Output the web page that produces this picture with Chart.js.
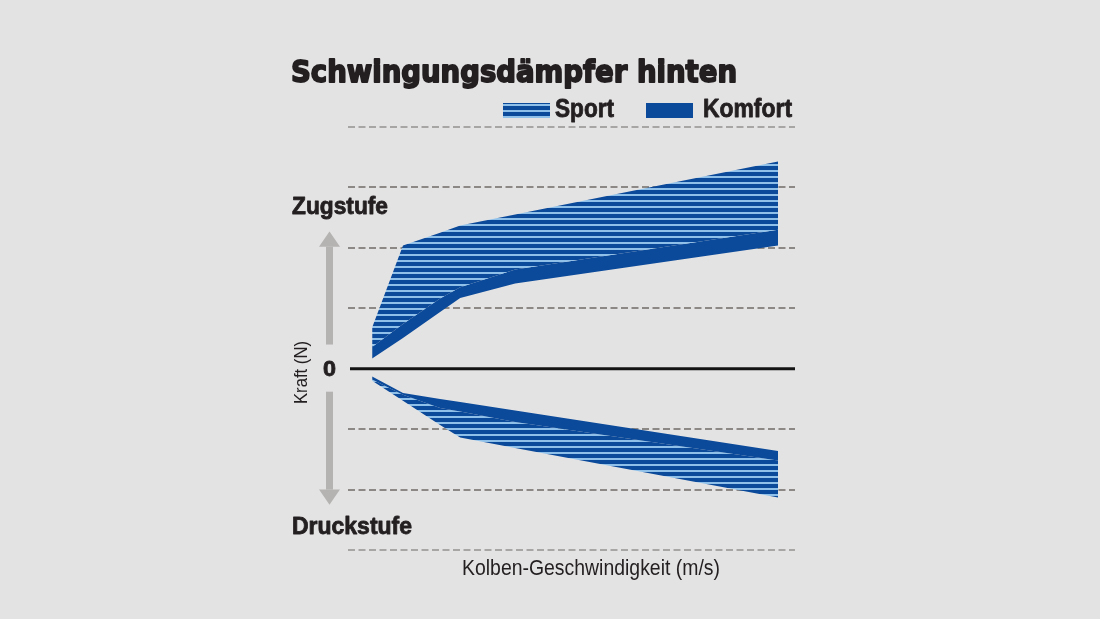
<!DOCTYPE html>
<html lang="de">
<head>
<meta charset="utf-8">
<title>Schwingungsdämpfer hinten</title>
<script src="https://cdn.jsdelivr.net/npm/chart.js@4.4.1/dist/chart.umd.min.js"></script>
<style>
  html, body { margin: 0; padding: 0; background: #e4e3e3; }
  canvas { display: block; }
</style>
</head>
<body>
<canvas id="grafik" width="1100" height="619"></canvas>
<script>
// Kolben-Geschwindigkeit (ohne Skala im Original, daher relative Werte 0..100)
const xWerte = [5.4, 12.3, 20.6, 25.1, 37.4, 96.2];

// Zugstufe (positive Kraft)
const zugSportOben = [0.68, 2.04, 2.25, 2.37, 2.55, 3.43];
const zugKomfortOben = [0.36, 0.74, 1.16, 1.35, 1.64, 2.30];
const zugKomfortUnten = [0.17, 0.51, 0.94, 1.17, 1.41, 2.04];

// Druckstufe (negative Kraft)
const druckKomfortOben = [-0.13, -0.40, -0.50, -0.55, -0.69, -1.36];
const druckKomfortUnten = [-0.18, -0.43, -0.65, -0.71, -0.88, -1.52];
const druckSportUnten = [-0.20, -0.53, -0.93, -1.14, -1.31, -2.13];

const DUNKELBLAU = "#0b4a9a";
const HELLBLAU = "#8ec0ea";
const TEXTFARBE = "#231f20";
const PFEILFARBE = "#b4b3b2";
const SCHMAL = '"Liberation Sans Narrow", "Liberation Sans", Arial, sans-serif';

function streifenMuster() {
  const c = document.createElement("canvas");
  c.width = 4;
  c.height = 6;
  const g = c.getContext("2d");
  g.fillStyle = DUNKELBLAU;
  g.fillRect(0, 0, 4, 6);
  g.fillStyle = HELLBLAU;
  g.fillRect(0, 2, 4, 2);
  return g.createPattern(c, "repeat");
}
const muster = streifenMuster();

function punkte(werte) {
  return xWerte.map((x, i) => ({ x, y: werte[i] }));
}

function linie(label, werte, fill, farbe) {
  return {
    label,
    data: punkte(werte),
    fill,
    backgroundColor: farbe,
    borderWidth: 0,
    pointRadius: 0,
    tension: 0,
  };
}

// Text auf eine bestimmte Breite bringen (Schriften sind nicht exakt gleich),
// optional mit Kontur für kräftigere Striche
function textInBreite(ctx, text, x, y, breite, font, kontur = 0) {
  ctx.save();
  ctx.font = font;
  const w = ctx.measureText(text).width;
  ctx.translate(x, y);
  ctx.scale(breite / w, 1);
  if (kontur) {
    ctx.strokeStyle = ctx.fillStyle;
    ctx.lineWidth = kontur;
    ctx.lineJoin = "round";
    ctx.strokeText(text, 0, 0);
  }
  ctx.fillText(text, 0, 0);
  ctx.restore();
}

function pfeil(ctx, x, yStart, yBasis, ySpitze) {
  ctx.fillStyle = PFEILFARBE;
  const oben = Math.min(yStart, yBasis);
  ctx.fillRect(x - 3.5, oben, 7, Math.abs(yStart - yBasis));
  ctx.beginPath();
  ctx.moveTo(x - 10.5, yBasis);
  ctx.lineTo(x + 10.5, yBasis);
  ctx.lineTo(x, ySpitze);
  ctx.closePath();
  ctx.fill();
}

const deko = {
  id: "deko",
  afterDraw(chart) {
    const { ctx, chartArea } = chart;
    const y = chart.scales.y;
    ctx.save();

    // Nulllinie
    ctx.strokeStyle = "#141414";
    ctx.lineWidth = 3;
    ctx.beginPath();
    ctx.moveTo(chartArea.left + 2, y.getPixelForValue(0));
    ctx.lineTo(chartArea.right, y.getPixelForValue(0));
    ctx.stroke();

    ctx.fillStyle = TEXTFARBE;
    ctx.textBaseline = "alphabetic";
    ctx.textAlign = "left";
    textInBreite(ctx, "Schwingungsdämpfer hinten", 291, 82, 446, 'bold 30px "DejaVu Sans", sans-serif', 1.8);

    // Legende
    ctx.fillStyle = muster;
    ctx.fillRect(503, 103, 47, 15);
    ctx.fillStyle = DUNKELBLAU;
    ctx.fillRect(646, 103, 47, 15);
    ctx.fillStyle = TEXTFARBE;
    textInBreite(ctx, "Sport", 555, 117, 59, "bold 25px " + SCHMAL, 0.8);
    textInBreite(ctx, "Komfort", 703, 117, 89, "bold 25px " + SCHMAL, 0.8);

    textInBreite(ctx, "Zugstufe", 292, 214, 96, "bold 23px " + SCHMAL, 0.8);
    textInBreite(ctx, "Druckstufe", 292, 534, 120, "bold 23px " + SCHMAL, 0.8);
    textInBreite(ctx, "0", 323, 376, 13, "bold 22px " + SCHMAL, 0.8);
    textInBreite(ctx, "Kolben-Geschwindigkeit (m/s)", 462, 575, 258, "22px " + SCHMAL);

    ctx.save();
    ctx.translate(307, 404);
    ctx.rotate(-Math.PI / 2);
    textInBreite(ctx, "Kraft (N)", 0, 0, 63, "19px " + SCHMAL);
    ctx.restore();

    // Pfeile Zug / Druck
    pfeil(ctx, 329.5, y.getPixelForValue(0.4), y.getPixelForValue(2.02), y.getPixelForValue(2.27));
    pfeil(ctx, 329.5, y.getPixelForValue(-0.38), y.getPixelForValue(-2.0), y.getPixelForValue(-2.25));

    ctx.restore();
  },
};

new Chart(document.getElementById("grafik"), {
  type: "line",
  data: {
    datasets: [
      linie("Sport Zug", zugSportOben, "+1", muster),
      linie("Komfort Zug", zugKomfortOben, "+1", DUNKELBLAU),
      linie("Komfort Zug unten", zugKomfortUnten, false, DUNKELBLAU),
      linie("Komfort Druck", druckKomfortOben, "+1", DUNKELBLAU),
      linie("Sport Druck", druckKomfortUnten, "+1", muster),
      linie("Sport Druck unten", druckSportUnten, false, muster),
    ],
  },
  options: {
    responsive: false,
    animation: false,
    layout: { padding: { left: 348, right: 305, top: 127, bottom: 69 } },
    scales: {
      x: { type: "linear", min: 0, max: 100, display: false },
      y: {
        min: -3,
        max: 4,
        ticks: { display: false, stepSize: 1 },
        border: { display: false, dash: [7, 3.5] },
        grid: {
          drawTicks: false,
          lineWidth: 2,
          color: (c) => {
            if (c.tick.value === 0) return "rgba(0,0,0,0)";
            if (c.tick.value === 4 || c.tick.value === -3) return "#a8a6a5";
            return "#8b8886";
          },
        },
      },
    },
    plugins: {
      legend: { display: false },
      tooltip: { enabled: false },
    },
  },
  plugins: [deko],
});
</script>
</body>
</html>
